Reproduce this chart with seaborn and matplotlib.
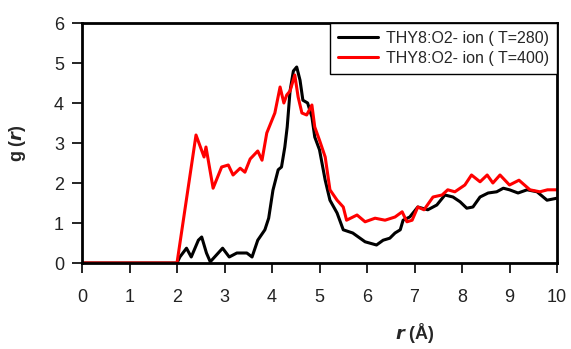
import numpy as np
import pandas as pd
import matplotlib
matplotlib.use("Agg")
import matplotlib.pyplot as plt
import seaborn as sns

# g(r) for the THY8:O2 - ion pair at two temperatures
r_280 = [0.0, 2.0, 2.06, 2.2, 2.3, 2.45, 2.52, 2.62, 2.7, 2.83, 2.96, 3.1, 3.26, 3.47, 3.58,
         3.7, 3.85, 3.93, 4.02, 4.13, 4.2, 4.27, 4.32, 4.38, 4.45, 4.52, 4.59, 4.65, 4.75,
         4.84, 4.9, 5.0, 5.12, 5.22, 5.37, 5.5, 5.7, 5.96, 6.2, 6.34, 6.48, 6.59, 6.7, 6.76,
         6.9, 7.07, 7.28, 7.47, 7.64, 7.81, 7.96, 8.1, 8.23, 8.38, 8.55, 8.73, 8.87, 9.0,
         9.18, 9.37, 9.58, 9.79, 10.0]
g_280 = [0.0, 0.0, 0.15, 0.37, 0.15, 0.57, 0.65, 0.25, 0.03, 0.2, 0.37, 0.15, 0.25, 0.25, 0.15,
         0.57, 0.83, 1.12, 1.82, 2.33, 2.4, 2.9, 3.4, 4.3, 4.8, 4.9, 4.57, 4.07, 4.0,
         3.65, 3.15, 2.83, 2.07, 1.57, 1.25, 0.83, 0.75, 0.53, 0.45, 0.57, 0.62, 0.75, 0.83, 1.07,
         1.15, 1.4, 1.33, 1.45, 1.7, 1.65, 1.53, 1.37, 1.4, 1.65, 1.75, 1.78, 1.87, 1.83,
         1.75, 1.83, 1.78, 1.57, 1.62]

r_400 = [0.0, 2.0, 2.4, 2.57, 2.61, 2.76, 2.94, 3.08, 3.18, 3.33, 3.43, 3.54, 3.7, 3.79,
         3.89, 4.06, 4.17, 4.25, 4.31, 4.38, 4.48, 4.55, 4.63, 4.73, 4.84, 4.9, 5.0, 5.12,
         5.22, 5.37, 5.5, 5.57, 5.79, 5.96, 6.17, 6.38, 6.59, 6.74, 6.84, 6.95, 7.07, 7.2,
         7.39, 7.58, 7.7, 7.85, 8.06, 8.2, 8.38, 8.53, 8.65, 8.8, 9.0, 9.2, 9.43, 9.64, 9.8, 10.0]
g_400 = [0.0, 0.0, 3.2, 2.65, 2.9, 1.87, 2.4, 2.45, 2.2, 2.37, 2.27, 2.6, 2.8, 2.57,
         3.25, 3.75, 4.4, 4.0, 4.2, 4.3, 4.7, 4.15, 3.75, 3.7, 3.95, 3.4, 3.07, 2.65,
         1.83, 1.57, 1.4, 1.07, 1.2, 1.03, 1.12, 1.07, 1.15, 1.28, 1.03, 1.07, 1.4, 1.33,
         1.65, 1.7, 1.83, 1.78, 1.95, 2.2, 2.03, 2.2, 2.0, 2.2, 1.95, 2.07, 1.83, 1.78, 1.83, 1.83]

series_names = ["THY8:O2- ion ( T=280)", "THY8:O2- ion ( T=400)"]
x_ticks = list(range(0, 11))
y_ticks = list(range(0, 7))

df = pd.concat([
    pd.DataFrame({"r": r_280, "g": g_280, "series": series_names[0]}),
    pd.DataFrame({"r": r_400, "g": g_400, "series": series_names[1]}),
], ignore_index=True)

sns.set_style("ticks")
plt.rcParams["font.family"] = ["Liberation Sans", "DejaVu Sans"]

fig = plt.figure(figsize=(5.71, 3.49), dpi=100)
ax = fig.add_axes([82 / 571, 1 - 263 / 349, 475 / 571, 240 / 349])

sns.lineplot(data=df, x="r", y="g", hue="series", palette=["black", "red"],
             linewidth=2.2, sort=False, estimator=None, ax=ax)

ax.set_xlim(0, 10)
ax.set_ylim(0, 6)
ax.set_xticks(x_ticks)
ax.set_yticks(y_ticks)
ax.tick_params(axis="both", direction="out", length=7, width=1.2, labelsize=13,
               colors="black", labelcolor="#222222", pad=12)
ax.tick_params(axis="y", pad=6)
for s in ax.spines.values():
    s.set_visible(True)
    s.set_linewidth(2.0)
    s.set_color("black")

ax.set_xlabel("")
ax.set_ylabel("")
fig.text(415 / 571, 1 - 333 / 349, r"$\boldsymbol{r}$ (Å)", ha="center", va="center",
         fontsize=13, fontweight="bold")
fig.text(18 / 571, 1 - 143 / 349, r"g ($\boldsymbol{r}$)", ha="center", va="center",
         rotation=90, fontsize=13, fontweight="bold")

leg = ax.legend(loc="upper right", borderaxespad=0, fancybox=False, framealpha=1,
                edgecolor="black", fontsize=11.5, handlelength=2.5, handletextpad=0.5,
                borderpad=0.5, labelspacing=0.3)
leg.get_frame().set_linewidth(1.0)

fig.savefig("out.png", dpi=100)
